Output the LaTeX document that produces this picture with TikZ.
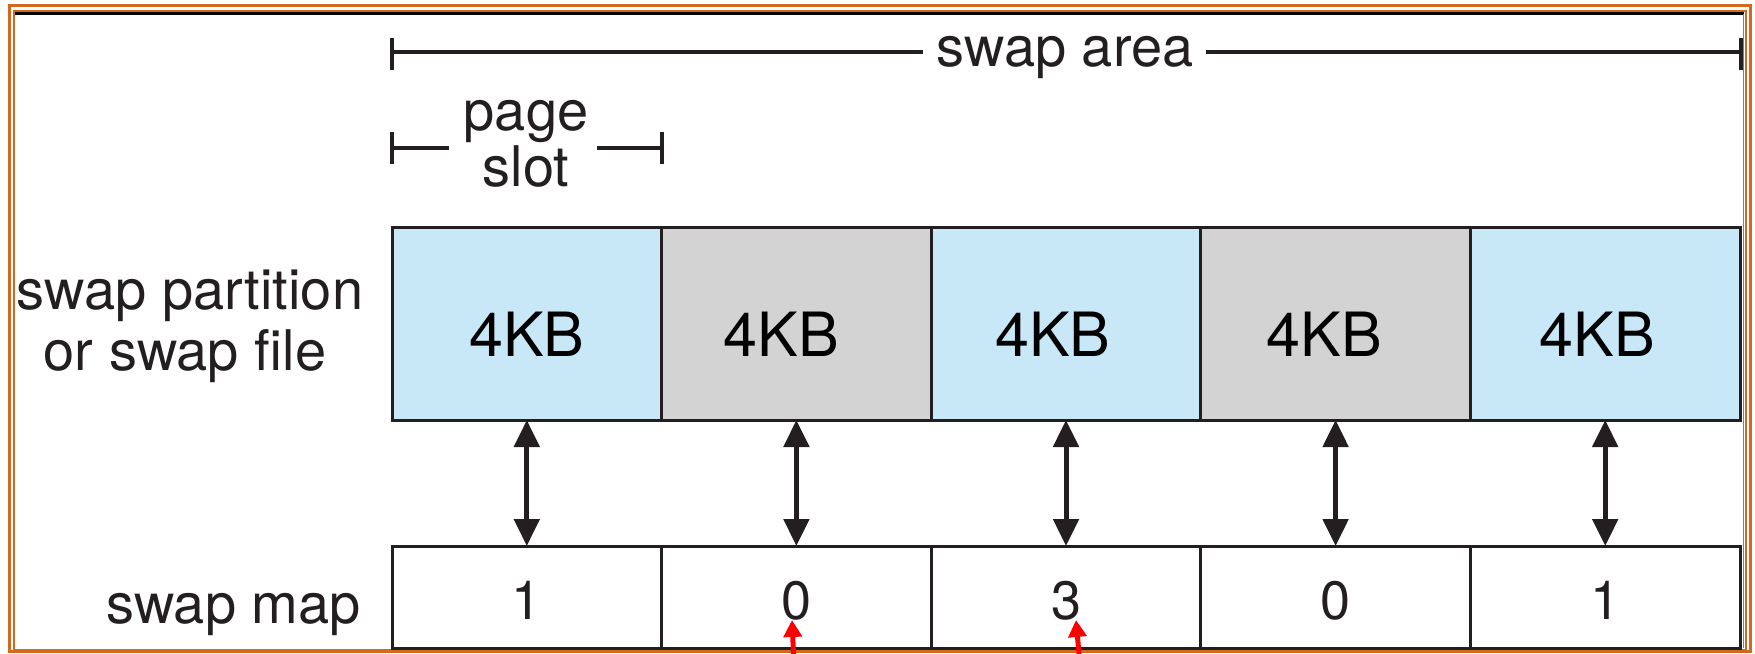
\documentclass[tikz,border=0pt]{standalone}
\usepackage{fontspec}
\setmainfont{TeX Gyre Heros}
\usetikzlibrary{arrows.meta,calc}

\definecolor{slotblue}{HTML}{C8E8F8}
\definecolor{slotgray}{HTML}{D3D3D3}
\definecolor{frameorange}{HTML}{D2691E}
\definecolor{ink}{HTML}{231F20}

\begin{document}
\begin{tikzpicture}[x=0.5pt,y=-0.5pt,
  slotcell/.style={draw=ink,line width=1.5pt,minimum width=134.8pt,
    minimum height=96.5pt,inner sep=0pt,outer sep=0pt},
  mapcell/.style={draw=ink,line width=1.5pt,minimum width=134.8pt,
    minimum height=51pt,inner sep=0pt,outer sep=0pt,text=ink,
    font=\fontsize{27}{30}\selectfont,text height=22.5pt,text depth=0pt},
  kb/.style={inner sep=0pt,font=\fontsize{30.5}{34}\selectfont,text=black},
  lbl/.style={inner sep=0pt,text=ink,font=\fontsize{28}{30.5}\selectfont},
  dimline/.style={draw=ink,line width=1.6pt},
  linkarrow/.style={draw=ink,line width=2.5pt,
    {Triangle[length=13.5pt,width=12.5pt]}-{Triangle[length=13.5pt,width=12.5pt]}},
  pointer/.style={draw=red,line width=2.5pt,-{Triangle[length=8.5pt,width=9pt]}}
]
\useasboundingbox (0,0) rectangle (1755,653);

% double frame
\draw[frameorange,line width=1.35pt] (9.5,5.5) rectangle (1750.5,651.5);
\draw[frameorange,line width=1pt] (14.3,10.7) rectangle (1745.5,649.5);
\draw[black,line width=1.4pt] (15,13.5) -- (1744,13.5);
\draw[gray,line width=0.6pt] (1743.3,14) -- (1743.3,648);

% page slots of the swap area
\foreach \i/\c/\dx in {1/slotblue/0,2/slotgray/-15,3/slotblue/-13,4/slotgray/-11,5/slotblue/-8}{
  \node[slotcell,fill=\c] (p\i) at ({392+269.6*(\i-0.5)},323.5) {};
  \node[kb] (k\i) at ($(p\i.center)+(\dx,10.5)$) {4KB};
}

% swap map entries
\foreach \i/\v in {1/1,2/0,3/3,4/0,5/1}{
  \node[mapcell] (m\i) at ({392+269.6*(\i-0.5)},597) {\v};
}

% links between slots and map entries
\foreach \i in {1,...,5}{
  \draw[linkarrow] (p\i.south) -- (m\i.north);
}

% row labels
\node[lbl,anchor=base] (rl1) at (190,309) {swap partition};
\node[lbl,anchor=base] (rl2) at (185,370) {or swap file};
\node[lbl,anchor=base east] (ml) at (361,623) {swap map};

% swap area dimension
\node[lbl,anchor=base] (sa) at (1065,66) {swap area};
\coordinate (saL) at (392,52);
\coordinate (saR) at (1741,52);
\coordinate (saGapL) at (923,52);
\coordinate (saGapR) at (1206,52);
\draw[dimline] (392,38) -- (392,70);
\draw[dimline,line width=2.3pt] (1741,38) -- (1741,70);
\draw[dimline] (saL) -- (saGapL);
\draw[dimline] (saGapR) -- (saR);

% page slot dimension
\node[lbl,anchor=base] (ps1) at (526,130) {page};
\node[lbl,anchor=base] (ps2) at (526,186) {slot};
\coordinate (psL) at (392,148);
\coordinate (psR) at (662,148);
\coordinate (psGapL) at (449,148);
\coordinate (psGapR) at (597,148);
\draw[dimline] (392,132) -- (392,164);
\draw[dimline] (662,132) -- (662,164);
\draw[dimline] (psL) -- (psGapL);
\draw[dimline] (psGapR) -- (psR);

% red pointers
\coordinate (r1tail) at (794,665);
\coordinate (r1tip) at ($(m2.center)+(-4.4,23)$);
\coordinate (r2tail) at (1080,665);
\coordinate (r2tip) at ($(m3.center)+(10,23)$);
\draw[pointer] (r1tail) -- (r1tip);
\draw[pointer] (r2tail) -- (r2tip);
\end{tikzpicture}
\end{document}
